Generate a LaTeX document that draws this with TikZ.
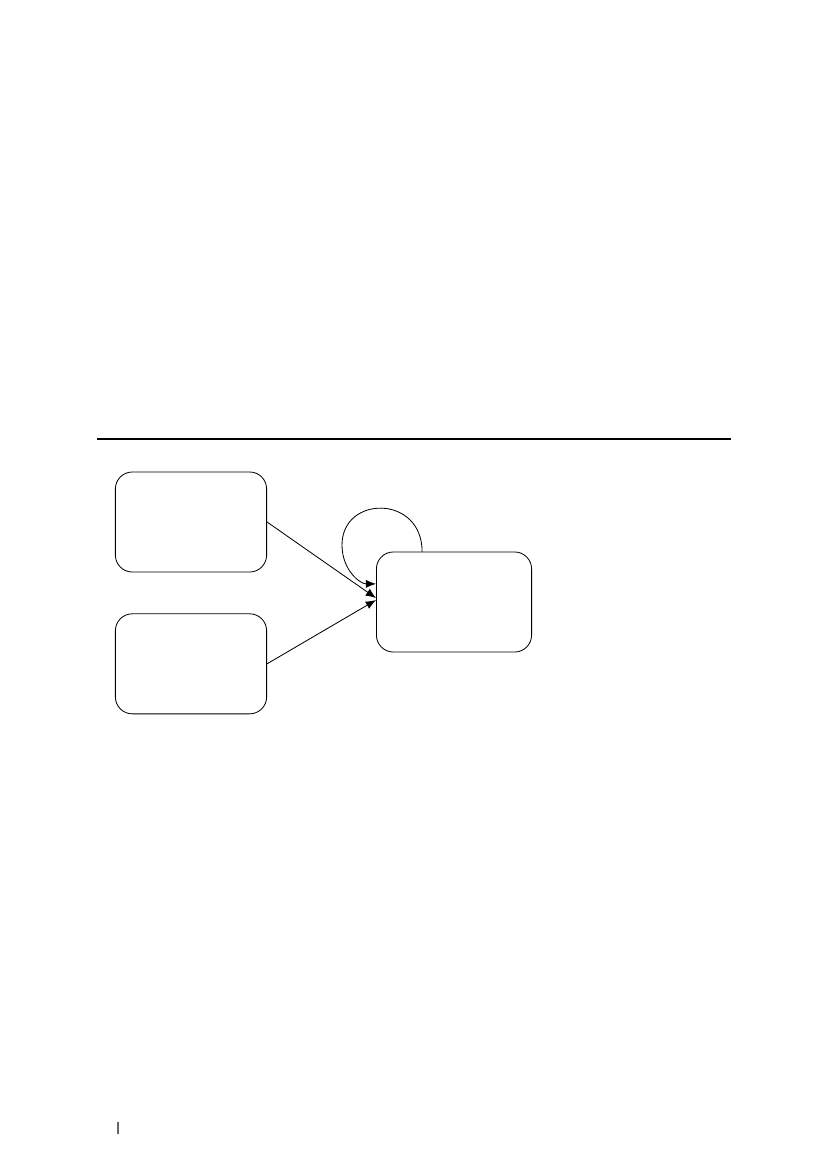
\documentclass[tikz,border=0pt]{standalone}
\usepackage{tikz}
\usetikzlibrary{arrows.meta,positioning}

\begin{document}
\begin{tikzpicture}[x=0.2539mm,y=-0.2539mm,
    boxstyle/.style={rectangle,draw,rounded corners=4.3mm,line width=0.6pt,minimum width=38.4mm,minimum height=25.4mm,inner sep=0pt},
    link/.style={line width=0.6pt,-{Latex[length=2.6mm,width=2.1mm]}}]
\useasboundingbox (0,0) rectangle (827,1169);
\draw[line width=0.8pt] (97,439) -- (731,439);
\node[boxstyle] (box1) at (191,522) {};
\node[boxstyle,below=10.4mm of box1] (box2) {};
\node[boxstyle,minimum width=39.4mm] (box3) at (454,602) {};
\coordinate (loopleft) at (342,545);
\draw[link] (box1.east) -- ([yshift=1mm]box3.west);
\draw[link] (box2.east) -- ([yshift=0.5mm]box3.west);
\draw[link] ([xshift=-8.1mm]box3.north) .. controls +(0,-57) and +(0,-50) .. (loopleft)
    .. controls +(0,25) and +(-16,0) .. ([yshift=4.6mm]box3.west);
\draw[line width=0.8pt,gray!80!black] (118,1122) -- (118,1134);
\end{tikzpicture}
\end{document}
